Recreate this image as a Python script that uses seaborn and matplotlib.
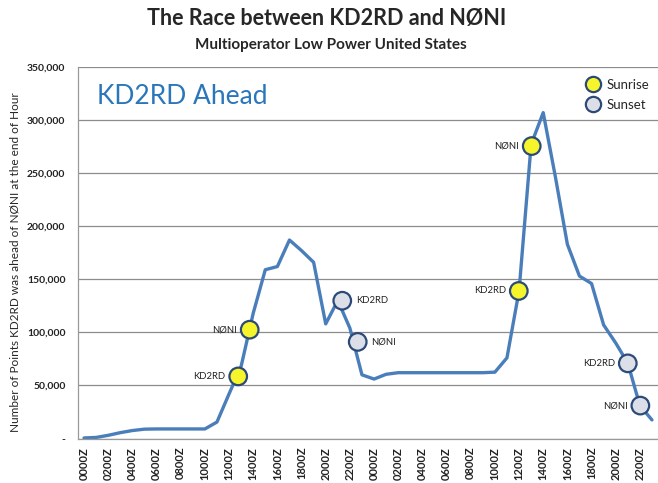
import numpy as np
import pandas as pd
import seaborn as sns
import matplotlib.pyplot as plt
from matplotlib.lines import Line2D

# Hourly lead of KD2RD over NØNI (points), 48 hours of the contest
hour_labels = ['0000Z', '0200Z', '0400Z', '0600Z', '0800Z', '1000Z',
               '1200Z', '1400Z', '1600Z', '1800Z', '2000Z', '2200Z'] * 2
lead = [500, 1000, 3000, 5500, 7500, 8800, 9000, 9000, 9000, 9000,
        9000, 15500, 42000, 68000, 118000, 159000, 162000, 187000, 177000, 166000,
        108000, 130000, 104000, 60000, 56000, 60500, 62000, 62000, 62000, 62000,
        62000, 62000, 62000, 62000, 62500, 76000, 139000, 277000, 307000, 247000,
        183000, 153000, 146000, 107000, 90000, 71000, 31000, 17500]

# Sunrise / sunset markers (hour position, lead, station, label side)
event_hour = [12.76, 13.71, 21.37, 22.65, 35.98, 37.05, 45.0, 46.04]
event_lead = [58500, 102500, 129800, 91000, 139000, 275500, 70800, 31000]
event_kind = ['Sunrise', 'Sunrise', 'Sunset', 'Sunset',
              'Sunrise', 'Sunrise', 'Sunset', 'Sunset']
event_station = ['KD2RD', 'NØNI', 'KD2RD', 'NØNI', 'KD2RD', 'NØNI', 'KD2RD', 'NØNI']
event_side = ['left', 'left', 'right', 'right', 'left', 'left', 'left', 'left']

y_ticks = [0, 50000, 100000, 150000, 200000, 250000, 300000, 350000]
y_tick_labels = ['-', '50,000', '100,000', '150,000', '200,000',
                 '250,000', '300,000', '350,000']

df = pd.DataFrame({'hour': np.arange(len(lead)), 'lead': lead})
ev = pd.DataFrame({'hour': event_hour, 'lead': event_lead, 'kind': event_kind})

sns.set_style('white')
plt.rcParams['font.family'] = ['Lato', 'DejaVu Sans']

line_col = '#4a7ebb'
edge_col = '#2c4a78'
fills = {'Sunrise': '#f6f52c', 'Sunset': '#dcdfe8'}

fig = plt.figure(figsize=(6.58, 4.83), dpi=100)
ax = fig.add_axes([78 / 658, 1 - 438.5 / 483, 580 / 658, (438.5 - 67) / 483])

sns.lineplot(data=df, x='hour', y='lead', ax=ax, color=line_col, lw=2.4, zorder=2)
sns.scatterplot(data=ev, x='hour', y='lead', hue='kind', palette=fills, ax=ax,
                s=160, edgecolor=edge_col, linewidth=1.6, zorder=3, legend=False)

# station labels beside the markers
for h, v, name, side in zip(event_hour, event_lead, event_station, event_side):
    dx = -9 if side == 'left' else 10
    ax.annotate(name, (h, v), xytext=(dx, 0), textcoords='offset points',
                ha='right' if side == 'left' else 'left', va='center',
                fontsize=6.8, color='#222222')

# axes
ax.set_xlim(-0.29, 47.29)
ax.set_ylim(0, 350000)
ax.set_yticks(y_ticks)
ax.set_yticklabels(y_tick_labels, fontsize=7.5, fontweight='bold', color='#222222')
ax.set_xticks(np.arange(0, 48, 2))
ax.set_xticklabels(hour_labels, rotation=90, fontsize=8, fontweight='bold',
                   color='#222222')
ax.set_xticks(np.arange(-0.5, 48, 1), minor=True)
ax.tick_params(axis='x', which='major', length=0, pad=6)
ax.tick_params(axis='x', which='minor', length=4, color='#999999', width=0.8,
               direction='out')
ax.tick_params(axis='y', length=5, color='#999999', width=0.8, direction='out', pad=4)
ax.set_xlabel('')
ax.set_ylabel('')
ax.grid(axis='y', color='#8c8c8c', lw=0.9)
for s in ['top', 'right']:
    ax.spines[s].set_visible(False)
for s in ['left', 'bottom']:
    ax.spines[s].set_color('#999999')
    ax.spines[s].set_linewidth(0.9)

# legend
handles = [Line2D([], [], ls='none', marker='o', markersize=11,
                  markerfacecolor=fills[k], markeredgecolor=edge_col,
                  markeredgewidth=1.6) for k in ['Sunrise', 'Sunset']]
fig.legend(handles, ['Sunrise', 'Sunset'], loc='upper left',
           bbox_to_anchor=(578 / 658, 1 - 72 / 483), frameon=False,
           handlelength=1.3, handletextpad=0.4, labelspacing=0.6,
           borderpad=0, prop={'size': 9.5})

fig.text(97 / 658, 1 - 97 / 483, 'KD2RD Ahead', color='#2a76bb', fontsize=19,
         ha='left', va='center')
fig.text(0.497, 1 - 18 / 483, 'The Race between KD2RD and NØNI',
         fontsize=15.5, fontweight='bold', ha='center', va='center')
fig.text(0.503, 1 - 45 / 483, 'Multioperator Low Power United States',
         fontsize=11, fontweight='bold', ha='center', va='center')
fig.text(15 / 658, 1 - 262 / 483,
         'Number of Points KD2RD was ahead of NØNI at the end of Hour',
         rotation=90, fontsize=8.5, ha='center', va='center')

fig.savefig('out.png', dpi=100)
